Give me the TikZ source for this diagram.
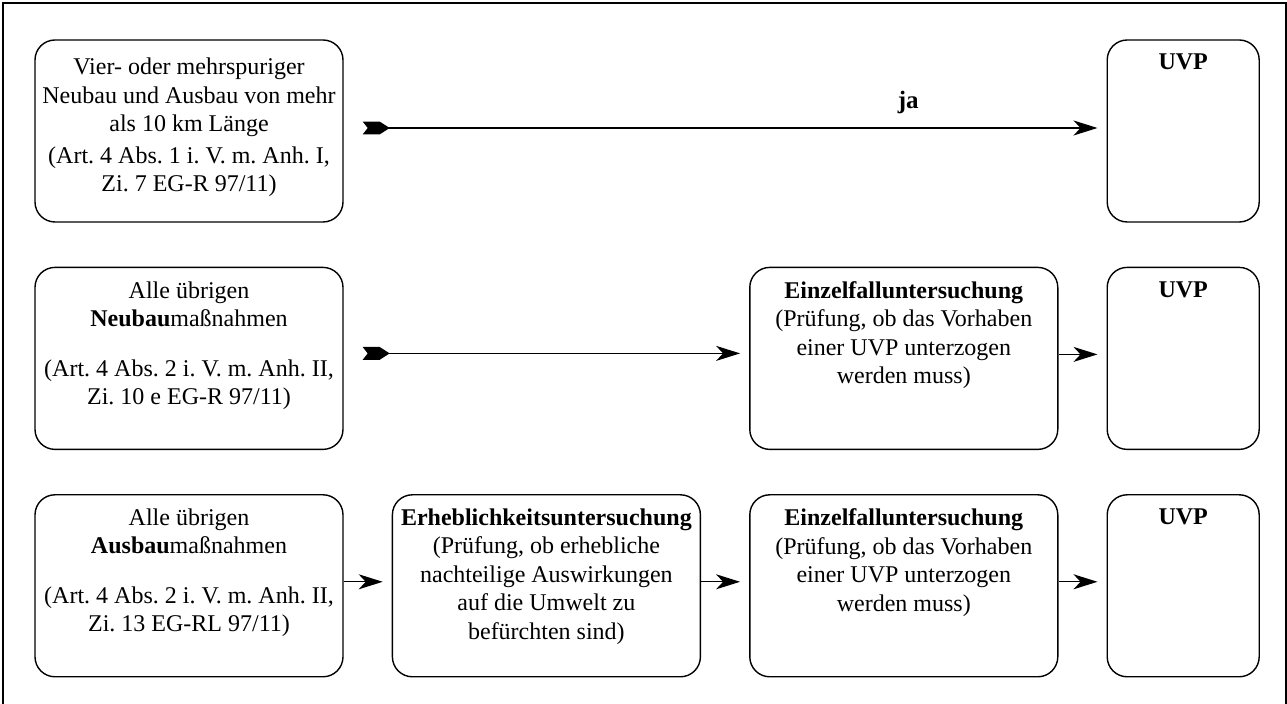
\documentclass[tikz,border=0pt]{standalone}
\usepackage{fontspec}
\setmainfont{Liberation Serif}
\usetikzlibrary{positioning,arrows.meta}

% feathered arrow tail
\pgfdeclarearrow{
  name = Fletch,
  setup code = {
    \pgfarrowssettipend{0pt}
    \pgfarrowssetlineend{-11pt}
    \pgfarrowssetbackend{-13.5pt}
    \pgfarrowshullpoint{0pt}{3.2pt}
    \pgfarrowshullpoint{0pt}{-3.2pt}
    \pgfarrowshullpoint{-13.5pt}{0pt}
  },
  drawing code = {
    \pgfpathmoveto{\pgfqpoint{0pt}{3.2pt}}
    \pgfpathlineto{\pgfqpoint{-8.5pt}{3.2pt}}
    \pgfpathlineto{\pgfqpoint{-13.5pt}{0pt}}
    \pgfpathlineto{\pgfqpoint{-8.5pt}{-3.2pt}}
    \pgfpathlineto{\pgfqpoint{0pt}{-3.2pt}}
    \pgfpathlineto{\pgfqpoint{-2.5pt}{0pt}}
    \pgfpathclose
    \pgfusepathqfill
  },
}

\begin{document}
\frenchspacing
\begin{tikzpicture}[
    node distance=22pt and 24pt,
    font=\fontsize{12}{14.25}\selectfont,
    box/.style={draw, line width=0.7pt, rounded corners=10pt, inner xsep=2pt, inner ysep=6pt, minimum height=91pt,
        execute at begin node={\begin{minipage}[t][79pt][t]{#1}\centering\vspace*{1pt}},
        execute at end node={\end{minipage}}},
    box/.default=150pt,
    arrow/.style={line width=0.7pt, -{Stealth[length=12pt,width=7.5pt,inset=3.5pt]}, shorten >=4.5pt},
    feather/.style={arrow, {Fletch}-{Stealth[length=12pt,width=7.5pt,inset=3.5pt]}, shorten <=9.5pt}
]
    \useasboundingbox (0,0) rectangle (643.5pt,-352pt);
    % Frame
    \draw[line width=0.75pt] (1.5pt,-352pt) -- (1.5pt,-1.5pt) -- (643pt,-1.5pt) -- (643pt,-352pt);

    % Nodes
    \node[box] (vier) at (94.5pt,-65.5pt) {\vspace*{2pt}Vier- oder mehrspuriger\\Neubau und Ausbau von mehr\\als 10 km Länge\\[1.5pt](Art. 4 Abs. 1 i. V. m. Anh. I,\\Zi. 7 EG-R 97/11)};
    \node[box, below=of vier] (neubau) {Alle übrigen\\\textbf{Neubau}maßnahmen\\[10.5pt](Art. 4 Abs. 2 i. V. m. Anh. II,\\Zi. 10 e EG-R 97/11)};
    \node[box, below=of neubau] (ausbau) {Alle übrigen\\\textbf{Ausbau}maßnahmen\\[10.5pt](Art. 4 Abs. 2 i. V. m. Anh. II,\\Zi. 13 EG-RL 97/11)};
    \node[box, right=of ausbau] (erheb) {\textbf{Erheblichkeitsuntersuchung}\\(Prüfung, ob erhebliche\\nachteilige Auswirkungen\\auf die Umwelt zu\\befürchten sind)};
    \node[box, right=of erheb] (einzelB) {\textbf{Einzelfalluntersuchung}\\(Prüfung, ob das Vorhaben\\einer UVP unterzogen\\werden muss)};
    \node[box=72pt, right=of einzelB] (uvpC) {\textbf{UVP}};
    \node[box, above=of einzelB] (einzelA) {\textbf{Einzelfalluntersuchung}\\(Prüfung, ob das Vorhaben\\einer UVP unterzogen\\werden muss)};
    \node[box=72pt, above=of uvpC] (uvpB) {\textbf{UVP}};
    \node[box=72pt, above=of uvpB] (uvpA) {\textbf{UVP}};

    % Arrows
    \draw[feather] ([yshift=1.5pt]vier.east) -- node[pos=0.74, above=3.5pt, font=\bfseries\fontsize{12.5}{14}\selectfont] (ja) {ja} ([yshift=1.5pt]uvpA.west);
    \draw[feather] ([yshift=2.5pt]neubau.east) -- ([yshift=2.5pt]einzelA.west);
    \draw[arrow] ([yshift=2pt]einzelA.east) -- ([yshift=2pt]uvpB.west);
    \draw[arrow] ([yshift=2pt]ausbau.east) -- ([yshift=2pt]erheb.west);
    \draw[arrow] ([yshift=2pt]erheb.east) -- ([yshift=2pt]einzelB.west);
    \draw[arrow] ([yshift=2pt]einzelB.east) -- ([yshift=2pt]uvpC.west);
\end{tikzpicture}
\end{document}
